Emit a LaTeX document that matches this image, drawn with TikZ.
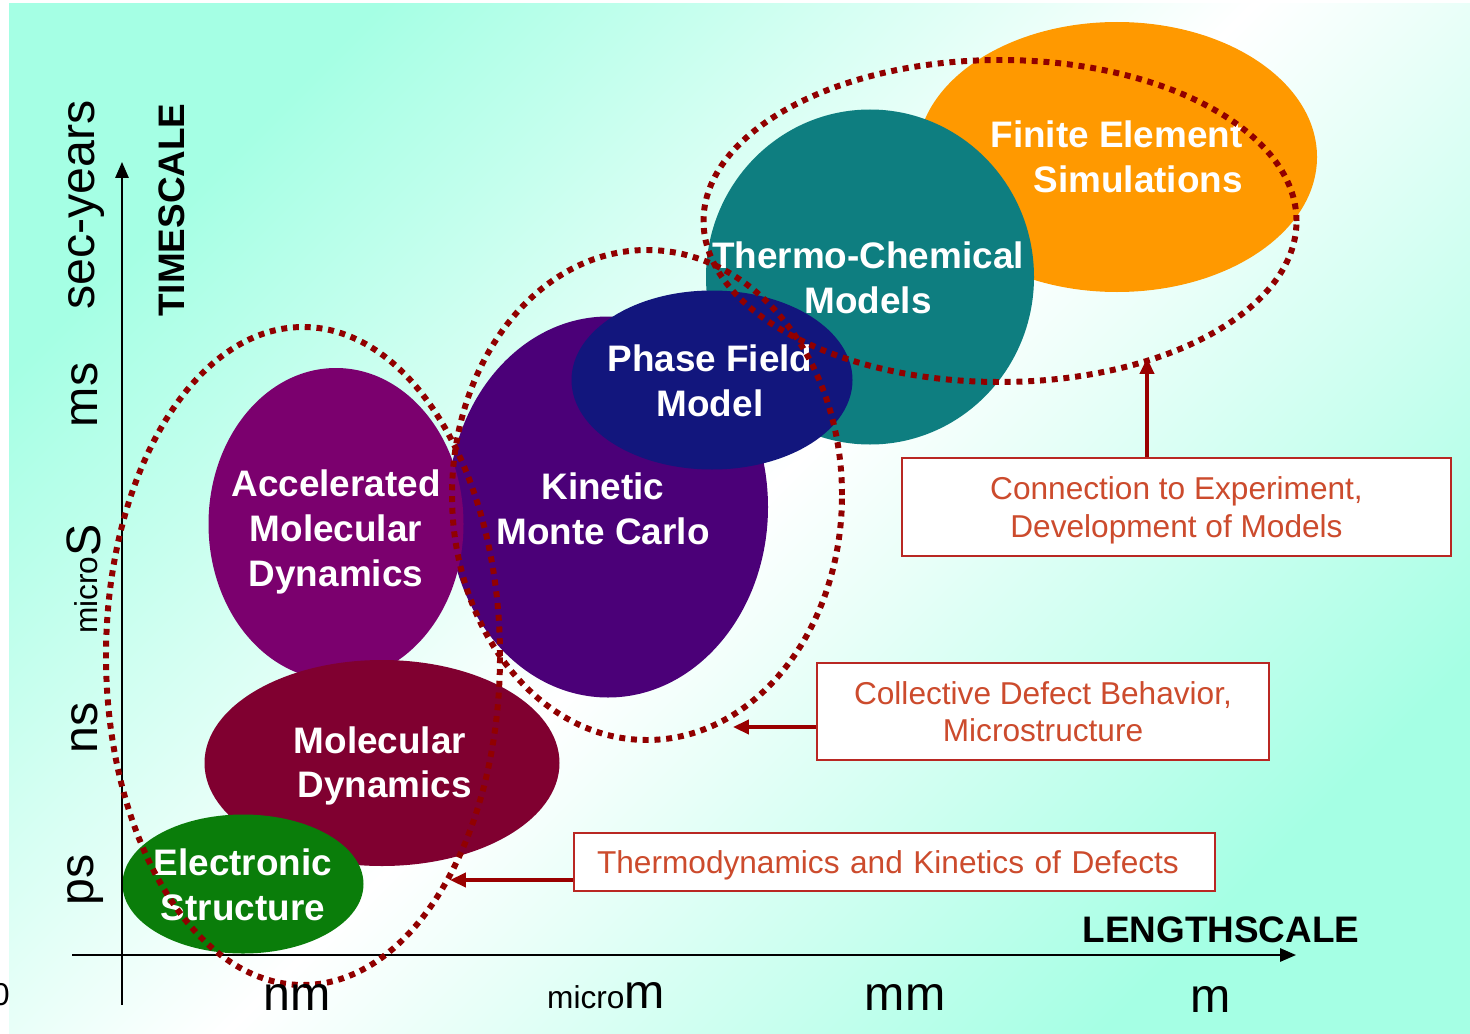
\documentclass[tikz,border=0pt]{standalone}
\usepackage{fontspec}
\setmainfont{Liberation Sans}
\usetikzlibrary{shapes.geometric,arrows.meta}
\definecolor{aq}{RGB}{165,255,228}
\definecolor{esgreen}{RGB}{10,125,10}
\definecolor{mdred}{RGB}{128,0,48}
\definecolor{amdpurple}{RGB}{123,0,110}
\definecolor{kmcindigo}{RGB}{75,0,120}
\definecolor{pfnavy}{RGB}{18,22,125}
\definecolor{tcteal}{RGB}{14,126,128}
\definecolor{feorange}{RGB}{255,153,0}
\definecolor{dotred}{RGB}{145,0,0}
\definecolor{boxline}{RGB}{185,40,35}
\definecolor{boxtext}{RGB}{204,75,45}
\definecolor{arrred}{RGB}{153,0,0}
\begin{document}
\begin{tikzpicture}[x=0.02cm,y=-0.02cm,
  blob/.style n args={3}{ellipse, fill=#1, draw=none, minimum width={#2*0.02cm}, minimum height={#3*0.02cm}, inner sep=0pt},
  ring/.style 2 args={ellipse, draw=dotred, line width=3.4pt, dash pattern=on 3.4pt off 3.3pt, minimum width={#1*0.02cm}, minimum height={#2*0.02cm}, inner sep=0pt},
  lab/.style={text=white, font=\fontsize{21}{25.5}\selectfont\bfseries, align=center, inner sep=0pt},
  axlab/.style={text=black, font=\fontsize{27.5}{30}\selectfont, inner sep=0pt},
  axtitle/.style={text=black, font=\fontsize{21}{24}\selectfont\bfseries, inner sep=0pt},
  infobox/.style 2 args={draw=boxline, line width=1.2pt, fill=white, text=boxtext, font=\fontsize{18}{21.5}\selectfont, align=center, minimum width={#1*0.02cm}, minimum height={#2*0.02cm}, inner sep=0pt, text depth=0pt},
  axis/.style={line width=1.1pt, -{Triangle[length=9pt,width=7.5pt]}},
  arr/.style={draw=arrred, line width=2pt, -{Triangle[length=9pt,width=8pt]}}
]
\useasboundingbox (0,0) rectangle (1470,1034);
% background
\shade[top color=aq, bottom color=aq, middle color=white, shading angle=45] (9,4) rectangle (1470,1034);
\node[font=\fontsize{18}{20}\selectfont, inner sep=0pt] (zero) at (1,995) {0};

% coloured ellipses (back to front)
\node[blob={feorange}{400}{270}] (fe) at (1117,157) {};
\node[blob={tcteal}{328}{335}] (tc) at (870,277) {};
\node[blob={kmcindigo}{320}{381}] (kmc) at (608,507) {};
\node[blob={pfnavy}{281}{179}] (pf) at (712,380) {};
\node[blob={amdpurple}{255}{312}] (amd) at (336,524) {};
\node[blob={mdred}{355}{206}] (md) at (382,763) {};
\node[blob={esgreen}{241}{139}] (es) at (243,884) {};

% axes
\coordinate (yb) at (122,1005);
\coordinate (yt) at (122,162);
\coordinate (xl) at (72,955);
\coordinate (xr) at (1296,955);
\draw[axis] (yb) -- (yt);
\draw[axis] (xl) -- (xr);

% ellipse labels
\node[lab] (esl) at (243,885) {Electronic\\Structure};
\node[lab] (mdl) at (380,766) {Molecular\\\hspace*{0.25em}Dynamics};
\node[lab] (amdl) at (336,532) {Accelerated\\Molecular\\Dynamics};
\node[lab] (kmcl) at (603,509) {Kinetic\\Monte Carlo};
\node[lab] (pfl) at (710,381) {Phase Field\\Model};
\node[lab] (tcl) at (868,278) {Thermo-Chemical\\Models};
\node[lab, align=right, anchor=east] (fel) at (1243,157) {Finite Element\\Simulations};

% dotted groupings
\node[ring={394}{658}] (dl) at (303,656) {};
\node[ring={390}{490}] (dm) at (647,495) {};
\node[ring={593}{322}] (dr) at (1000,221) {};

% axis labels
\node[axlab, rotate=90] (sy) at (87,205) {sec-years};
\node[axlab, rotate=90] (ms) at (85,395) {ms};
\node[axlab, rotate=90] (mus) at (84,579) {\raisebox{1.5pt}{\fontsize{18}{20}\selectfont micro}S};
\node[axlab, rotate=90] (ns) at (85,728) {ns};
\node[axlab, rotate=90] (ps) at (86,880) {ps};
\node[axtitle, rotate=90] (ts) at (172,210) {TIMESCALE};
\node[axtitle] (ls) at (1221,930) {LENGTHSCALE};
\node[axlab, anchor=base] (nm) at (297,1010) {nm};
\node[axlab, anchor=base] (um) at (606,1008) {{\fontsize{18}{20}\selectfont micro}m};
\node[axlab, anchor=base] (mm) at (905,1010) {mm};
\node[axlab, anchor=base] (m) at (1211,1012) {m};

% info boxes
\node[infobox={549}{98}] (b1) at (1176.5,507) {Connection to Experiment,\\Development of Models};
\node[infobox={452}{97}] (b2) at (1043,711.5) {Collective Defect Behavior,\\Microstructure};
\node[infobox={641}{58}, align=left, text width=11.9cm, inner xsep=0.44cm] (b3) at (894.5,862) {Thermodynamics and Kinetics of Defects};

% arrows
\coordinate (t1) at (1147,358);
\coordinate (t2) at (733,727);
\coordinate (t3) at (450,880);
\draw[arr] (t1 |- b1.north) -- (t1);
\draw[arr] (t2 -| b2.west) -- (t2);
\draw[arr] (t3 -| b3.west) -- (t3);
\end{tikzpicture}
\end{document}
